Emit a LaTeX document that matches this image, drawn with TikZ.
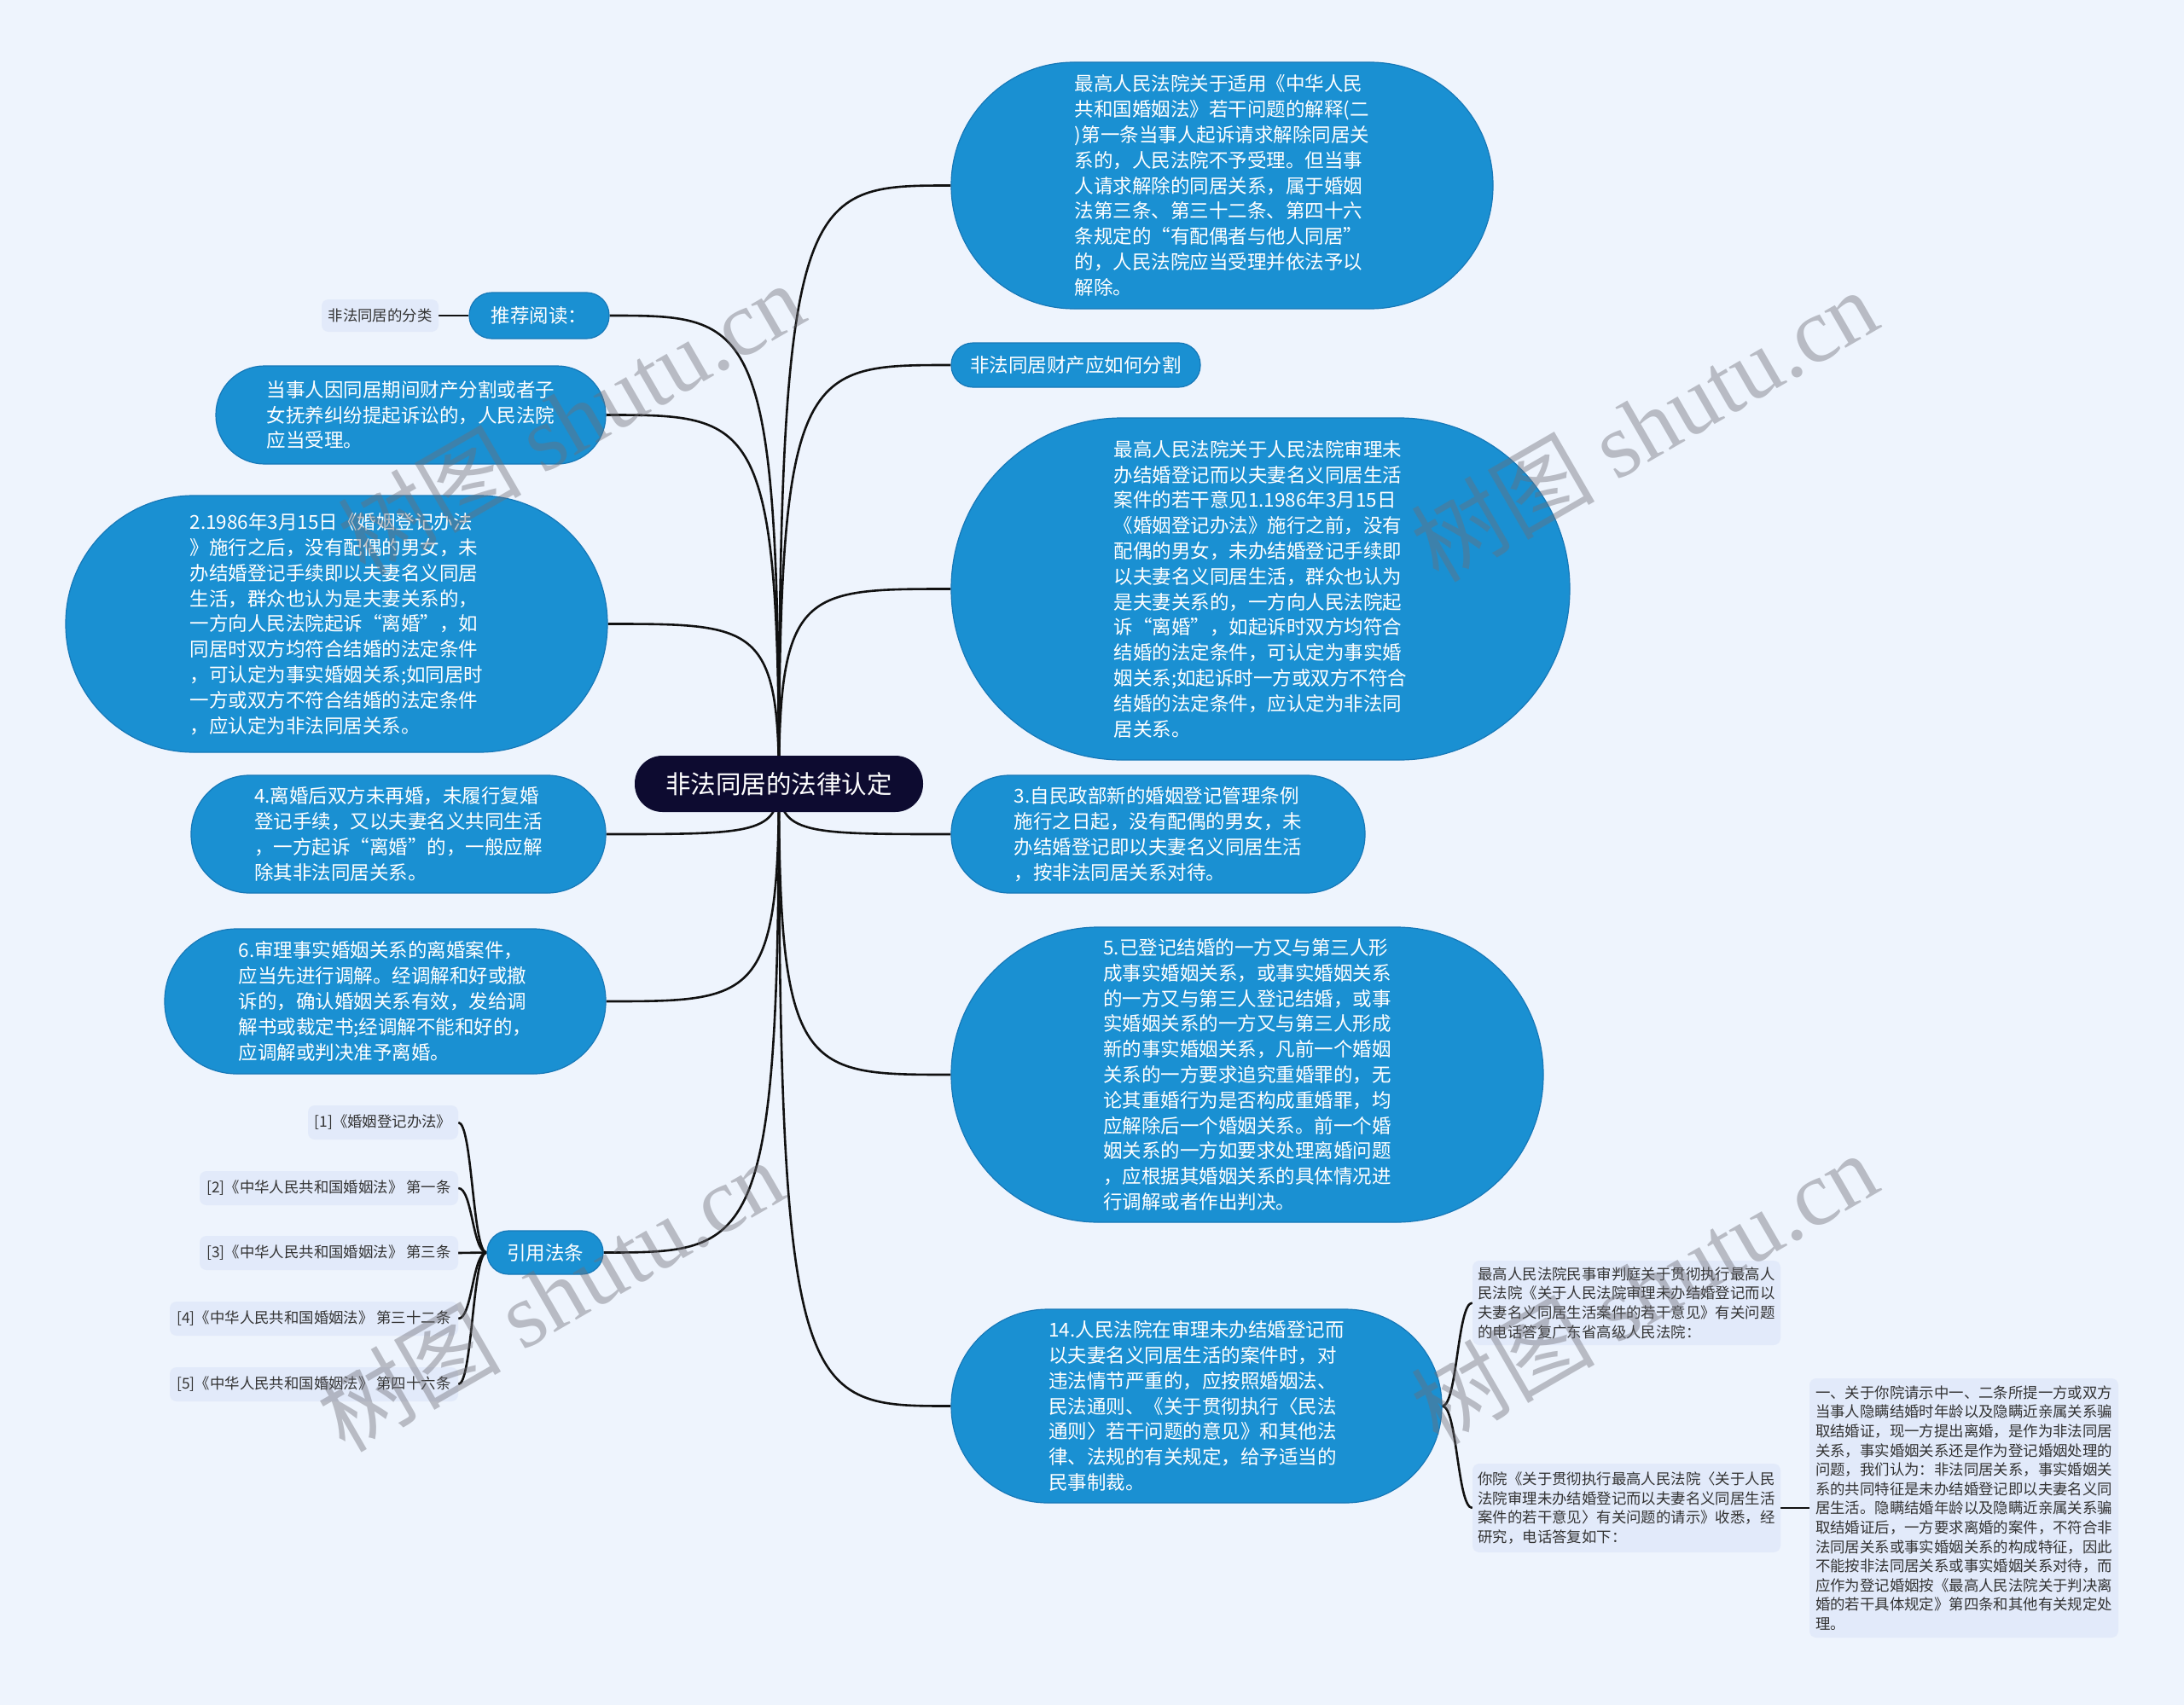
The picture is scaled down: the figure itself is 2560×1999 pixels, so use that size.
\documentclass[tikz,border=0pt]{standalone}
\usepackage{fontspec}
\setmainfont{Noto Sans CJK SC}
\newfontfamily\wmlatin{Liberation Serif}
\usetikzlibrary{calc}
\definecolor{bgc}{RGB}{238,244,253}
\definecolor{pillc}{RGB}{26,144,210}
\definecolor{pilledge}{RGB}{22,120,184}
\definecolor{hubc}{RGB}{13,11,48}
\definecolor{lightc}{RGB}{226,234,250}
\definecolor{txtc}{RGB}{51,51,51}
\definecolor{wirec}{RGB}{17,17,17}
\definecolor{wmc}{RGB}{110,110,118}
\pgfdeclarelayer{canvas}
\pgfdeclarelayer{wires}
\pgfsetlayers{canvas,wires,main}
\newcommand\fbig{\fontsize{22.5}{29.8}\selectfont}
\newcommand\fsmall{\fontsize{17.4}{22.6}\selectfont}
\newcommand\fhub{\fontsize{29.5}{34}\selectfont}
\newcommand\fwm{\fontsize{108}{110}\selectfont}
\newcommand\hubwire[1]{\draw[wire] (hub.center) .. controls (hub.center |- #1) and ($(hub.center |- #1)!0.15!(#1)$) .. (#1);}
\newcommand\brwire[2]{\draw[wire] (#1) .. controls ($(#1)!0.5!(#1 -| #2)$) and ($(#2)!0.5!(#2 -| #1)$) .. (#2);}
\begin{document}
\begin{tikzpicture}[x=1pt,y=-1pt,
  pillnode/.style={fill=pillc, draw=pilledge, line width=1.2pt, text=white, font=\fbig, align=left, inner sep=0pt},
  lightbox/.style={fill=lightc, text=txtc, font=\fsmall, align=left, inner sep=0pt, rounded corners=8pt},
  hubnode/.style={fill=hubc, text=white, font=\fhub, inner sep=0pt},
  wire/.style={draw=wirec, line width=2.6pt},
  wmark/.style={text=wmc, opacity=0.42, font=\fwm, inner sep=0pt, rotate=30}
]
\begin{pgfonlayer}{canvas}
\fill[bgc] (0,0) rectangle (2560,1999);
\end{pgfonlayer}
\useasboundingbox (0,0) rectangle (2560,1999);

% hub
\node[hubnode, minimum width=338pt, minimum height=66pt, rounded corners=32.5pt] (hub) at (913,919) {非法同居的法律认定};

% right side
\node[pillnode, minimum width=635pt, minimum height=289pt, rounded corners=144pt] (r1) at (1432.5,217.5) {最高人民法院关于适用《中华人民\\共和国婚姻法》若干问题的解释(二\\)第一条当事人起诉请求解除同居关\\系的，人民法院不予受理。但当事\\人请求解除的同居关系，属于婚姻\\法第三条、第三十二条、第四十六\\条规定的“有配偶者与他人同居”\\的，人民法院应当受理并依法予以\\解除。};
\node[pillnode, minimum width=292pt, minimum height=52pt, rounded corners=25.5pt] (r2) at (1261,428) {非法同居财产应如何分割};
\node[pillnode, minimum width=725pt, minimum height=401pt, rounded corners=200pt] (r3) at (1477.5,690.5) {最高人民法院关于人民法院审理未\\办结婚登记而以夫妻名义同居生活\\案件的若干意见1.1986年3月15日\\《婚姻登记办法》施行之前，没有\\配偶的男女，未办结婚登记手续即\\以夫妻名义同居生活，群众也认为\\是夫妻关系的，一方向人民法院起\\诉“离婚”，如起诉时双方均符合\\结婚的法定条件，可认定为事实婚\\姻关系;如起诉时一方或双方不符合\\结婚的法定条件，应认定为非法同\\居关系。};
\node[pillnode, minimum width=485pt, minimum height=138pt, rounded corners=68.5pt] (r4) at (1357.5,978) {3.自民政部新的婚姻登记管理条例\\施行之日起，没有配偶的男女，未\\办结婚登记即以夫妻名义同居生活\\，按非法同居关系对待。};
\node[pillnode, minimum width=694pt, minimum height=346pt, rounded corners=172.5pt] (r5) at (1462,1260) {5.已登记结婚的一方又与第三人形\\成事实婚姻关系，或事实婚姻关系\\的一方又与第三人登记结婚，或事\\实婚姻关系的一方又与第三人形成\\新的事实婚姻关系，凡前一个婚姻\\关系的一方要求追究重婚罪的，无\\论其重婚行为是否构成重婚罪，均\\应解除后一个婚姻关系。前一个婚\\姻关系的一方如要求处理离婚问题\\，应根据其婚姻关系的具体情况进\\行调解或者作出判决。};
\node[pillnode, minimum width=575pt, minimum height=227pt, rounded corners=113pt] (r6) at (1402.5,1648.5) {14.人民法院在审理未办结婚登记而\\以夫妻名义同居生活的案件时，对\\违法情节严重的，应按照婚姻法、\\民法通则、《关于贯彻执行〈民法\\通则〉若干问题的意见》和其他法\\律、法规的有关规定，给予适当的\\民事制裁。};
\node[lightbox, minimum width=361pt, minimum height=99pt] (r6a) at (1906.5,1527.5) {最高人民法院民事审判庭关于贯彻执行最高人\\民法院《关于人民法院审理未办结婚登记而以\\夫妻名义同居生活案件的若干意见》有关问题\\的电话答复广东省高级人民法院：};
\node[lightbox, minimum width=361pt, minimum height=104pt] (r6b) at (1906.5,1768) {你院《关于贯彻执行最高人民法院〈关于人民\\法院审理未办结婚登记而以夫妻名义同居生活\\案件的若干意见〉有关问题的请示》收悉，经\\研究，电话答复如下：};
\node[lightbox, minimum width=362pt, minimum height=304pt] (r6c) at (2302,1768) {一、关于你院请示中一、二条所提一方或双方\\当事人隐瞒结婚时年龄以及隐瞒近亲属关系骗\\取结婚证，现一方提出离婚，是作为非法同居\\关系，事实婚姻关系还是作为登记婚姻处理的\\问题，我们认为：非法同居关系，事实婚姻关\\系的共同特征是未办结婚登记即以夫妻名义同\\居生活。隐瞒结婚年龄以及隐瞒近亲属关系骗\\取结婚证后，一方要求离婚的案件，不符合非\\法同居关系或事实婚姻关系的构成特征，因此\\不能按非法同居关系或事实婚姻关系对待，而\\应作为登记婚姻按《最高人民法院关于判决离\\婚的若干具体规定》第四条和其他有关规定处\\理。};

% left side
\node[pillnode, minimum width=164pt, minimum height=54pt, rounded corners=26.5pt] (l1) at (632,370) {推荐阅读：};
\node[lightbox, minimum width=137pt, minimum height=38pt] (l1a) at (445.5,370) {非法同居的分类};
\node[pillnode, minimum width=457pt, minimum height=115pt, rounded corners=57pt] (l2) at (481.5,486.5) {当事人因同居期间财产分割或者子\\女抚养纠纷提起诉讼的，人民法院\\应当受理。};
\node[pillnode, minimum width=635pt, minimum height=301pt, rounded corners=150pt] (l3) at (394.5,731.5) {2.1986年3月15日《婚姻登记办法\\》施行之后，没有配偶的男女，未\\办结婚登记手续即以夫妻名义同居\\生活，群众也认为是夫妻关系的，\\一方向人民法院起诉“离婚”，如\\同居时双方均符合结婚的法定条件\\，可认定为事实婚姻关系;如同居时\\一方或双方不符合结婚的法定条件\\，应认定为非法同居关系。};
\node[pillnode, minimum width=486pt, minimum height=138pt, rounded corners=68.5pt] (l4) at (467,978) {4.离婚后双方未再婚，未履行复婚\\登记手续，又以夫妻名义共同生活\\，一方起诉“离婚”的，一般应解\\除其非法同居关系。};
\node[pillnode, minimum width=517pt, minimum height=170pt, rounded corners=84.5pt] (l5) at (451.5,1174) {6.审理事实婚姻关系的离婚案件，\\应当先进行调解。经调解和好或撤\\诉的，确认婚姻关系有效，发给调\\解书或裁定书;经调解不能和好的，\\应调解或判决准予离婚。};
\node[pillnode, minimum width=136pt, minimum height=51pt, rounded corners=25pt] (l6) at (639,1468.5) {引用法条};
\node[lightbox, minimum width=176pt, minimum height=40pt] (f1) at (449,1316) {[1]《婚姻登记办法》};
\node[lightbox, minimum width=303pt, minimum height=40pt] (f2) at (385.5,1393) {[2]《中华人民共和国婚姻法》 第一条};
\node[lightbox, minimum width=303pt, minimum height=40pt] (f3) at (385.5,1469) {[3]《中华人民共和国婚姻法》 第三条};
\node[lightbox, minimum width=338pt, minimum height=40pt] (f4) at (368,1546) {[4]《中华人民共和国婚姻法》 第三十二条};
\node[lightbox, minimum width=338pt, minimum height=40pt] (f5) at (368,1623) {[5]《中华人民共和国婚姻法》 第四十六条};

% connectors
\begin{pgfonlayer}{wires}
\hubwire{r1.west}
\hubwire{r2.west}
\hubwire{r3.west}
\hubwire{r4.west}
\hubwire{r5.west}
\hubwire{r6.west}
\hubwire{l1.east}
\hubwire{l2.east}
\hubwire{l3.east}
\hubwire{l4.east}
\hubwire{l5.east}
\hubwire{l6.east}
\draw[wire] (l1.west) -- (l1a.east);
\draw[wire] (r6b.east) -- (r6c.west);
\brwire{r6.east}{r6a.west}
\brwire{r6.east}{r6b.west}
\brwire{l6.west}{f1.east}
\brwire{l6.west}{f2.east}
\brwire{l6.west}{f3.east}
\brwire{l6.west}{f4.east}
\brwire{l6.west}{f5.east}
\end{pgfonlayer}

% watermarks
\node[wmark] (wm1) at (669,490) {树图 {\wmlatin shutu.cn}};
\node[wmark] (wm2) at (1927,498) {树图 {\wmlatin shutu.cn}};
\node[wmark] (wm3) at (645,1518) {树图 {\wmlatin shutu.cn}};
\node[wmark] (wm4) at (1927,1510) {树图 {\wmlatin shutu.cn}};
\end{tikzpicture}
\end{document}
